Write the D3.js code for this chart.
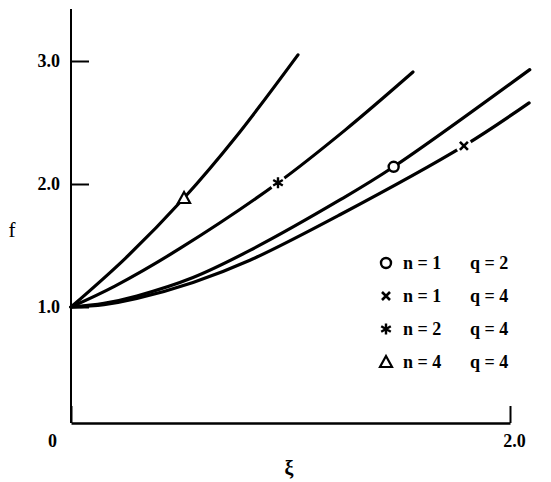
<!DOCTYPE html>
<html>
<head>
<meta charset="utf-8">
<script src="https://cdn.jsdelivr.net/npm/d3@7"></script>
<style>
  body { margin: 0; background: #fff; }
  svg { display: block; font-family: "Liberation Serif", "DejaVu Serif", serif; }
</style>
</head>
<body>
<div id="chart"></div>
<script>
// curve data (xi, f)
const curveQ2n1 = [[0,1],[0.15,1.03],[0.3,1.09],[0.556,1.24],[0.815,1.46],[1.225,1.87],[1.47,2.14],[2.09,2.93]];
const curveQ4n1 = [[0,1],[0.15,1.02],[0.3,1.07],[0.556,1.20],[0.815,1.38],[1.225,1.75],[1.79,2.31],[2.087,2.66]];
const curveQ4n2 = [[0,1],[0.2,1.17],[0.5,1.48],[0.943,2.01],[1.25,2.44],[1.558,2.91]];
const curveQ4n4 = [[0,1],[0.25,1.40],[0.515,1.886],[0.75,2.38],[1.034,3.05]];

// marker positions on each curve
const markerPts = [
  { sym: "circle", xi: 1.47, f: 2.14 },
  { sym: "cross", xi: 1.79, f: 2.31 },
  { sym: "star", xi: 0.943, f: 2.01 },
  { sym: "triangle", xi: 0.515, f: 1.886 }
];

const legendSyms = ["circle", "cross", "star", "triangle"];
const legendN = ["n = 1", "n = 1", "n = 2", "n = 4"];
const legendQ = ["q = 2", "q = 4", "q = 4", "q = 4"];

const yTicks = [1, 2, 3];
const xTicks = [0, 2];

const width = 551, height = 482;

const svg = d3.select("#chart").append("svg")
  .attr("width", width).attr("height", height);

const x = d3.scaleLinear().domain([0, 2]).range([71, 510]);
const y = d3.scaleLinear().domain([1, 3]).range([307, 61]);
const yBottom = 423, yTop = 9;

// axes
svg.append("line")
  .attr("x1", x(0)).attr("x2", x(0)).attr("y1", yTop).attr("y2", yBottom)
  .attr("stroke", "#000").attr("stroke-width", 2);

const yAxis = svg.append("g")
  .attr("transform", `translate(${x(0)},0)`)
  .call(d3.axisLeft(y).tickValues(yTicks).tickFormat(d3.format(".1f"))
    .tickSizeInner(-18).tickSizeOuter(0).tickPadding(11));
yAxis.select(".domain").remove();
yAxis.selectAll(".tick line").attr("stroke-width", 2);
yAxis.selectAll("text").attr("font-size", 18).attr("font-weight", "bold")
  .attr("font-family", "Liberation Serif").attr("fill", "#000");

const xAxis = svg.append("g")
  .attr("transform", `translate(0,${yBottom})`)
  .call(d3.axisBottom(x).tickValues(xTicks)
    .tickFormat(d => d === 0 ? "0" : d3.format(".1f")(d))
    .tickSizeInner(-17).tickSizeOuter(0).tickPadding(6));
xAxis.select(".domain").attr("stroke-width", 2.5);
xAxis.selectAll(".tick line").attr("stroke-width", 2);
xAxis.selectAll("text").attr("font-size", 18).attr("font-weight", "bold")
  .attr("font-family", "Liberation Serif").attr("fill", "#000")
  .attr("dy", "1.0em")
  .attr("dx", d => d === 0 ? -19 : 4);

svg.append("text").attr("x", 12).attr("y", 237)
  .attr("text-anchor", "middle").attr("font-size", 21).text("f");
svg.append("text").attr("x", 289).attr("y", 475)
  .attr("text-anchor", "middle").attr("font-size", 20).attr("font-weight", "bold").text("ξ");

// curves
const line = d3.line().x(d => x(d[0])).y(d => y(d[1])).curve(d3.curveCatmullRom.alpha(0.5));
[curveQ2n1, curveQ4n1, curveQ4n2, curveQ4n4].forEach(c => {
  svg.append("path").attr("d", line(c))
    .attr("fill", "none").attr("stroke", "#000").attr("stroke-width", 3.2)
    .attr("stroke-linecap", "round");
});

function drawSym(g, sym) {
  if (sym === "circle") {
    g.append("circle").attr("r", 5).attr("fill", "#fff").attr("stroke", "#000").attr("stroke-width", 2.4);
  } else if (sym === "cross") {
    g.append("path").attr("d", "M-4,-4L4,4M-4,4L4,-4")
      .attr("stroke", "#000").attr("stroke-width", 2.6);
  } else if (sym === "star") {
    g.append("path").attr("d", "M0,-5.5L0,5.5M-4.8,-2.8L4.8,2.8M-4.8,2.8L4.8,-2.8")
      .attr("stroke", "#000").attr("stroke-width", 2.4);
  } else if (sym === "triangle") {
    g.append("path").attr("d", "M0,-6L6,5L-6,5Z")
      .attr("fill", "#fff").attr("stroke", "#000").attr("stroke-width", 2.2);
  }
}

markerPts.forEach(m => {
  const g = svg.append("g").attr("transform", `translate(${x(m.xi)},${y(m.f)})`);
  if (m.sym === "cross" || m.sym === "star") {
    g.append("circle").attr("r", 8).attr("fill", "#fff");
  }
  drawSym(g, m.sym);
});

// legend
const legend = svg.append("g");
legendSyms.forEach((s, i) => {
  const yy = 263 + i * 33;
  drawSym(legend.append("g").attr("transform", `translate(386,${yy})`), s);
  legend.append("text").attr("x", 403).attr("y", yy + 6)
    .attr("font-size", 18).attr("font-weight", "bold").text(legendN[i]);
  legend.append("text").attr("x", 470).attr("y", yy + 6)
    .attr("font-size", 18).attr("font-weight", "bold").text(legendQ[i]);
});
</script>
</body>
</html>
